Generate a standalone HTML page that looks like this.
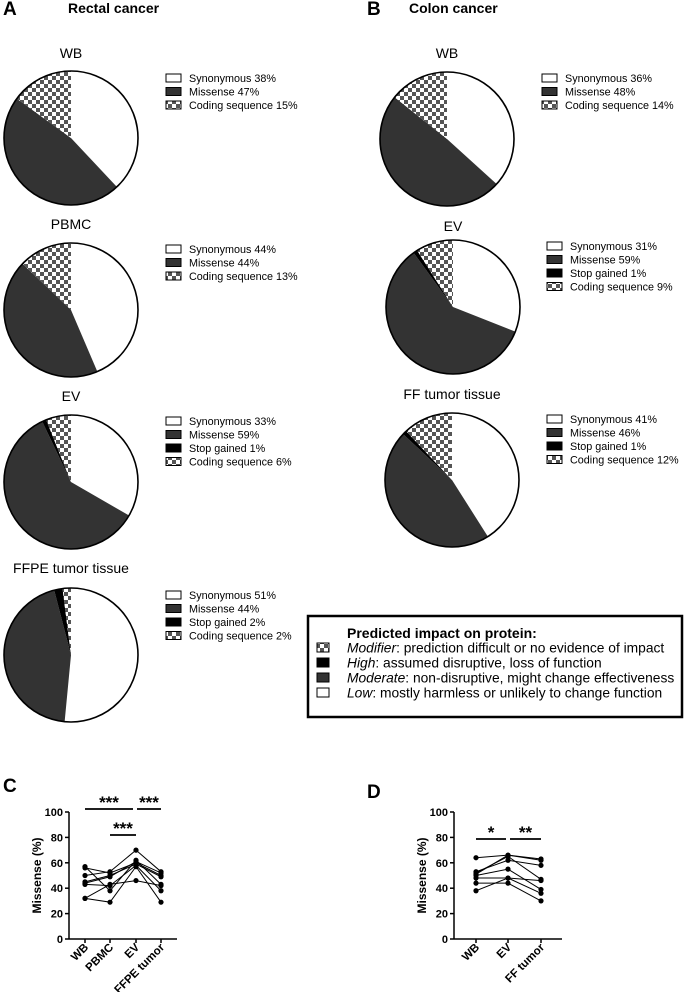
<!DOCTYPE html>
<html><head><meta charset="utf-8"><style>
html,body{margin:0;padding:0;background:#fff}
svg{display:block;font-family:"Liberation Sans",Arial,sans-serif}
</style></head><body>
<svg id="fig" width="685" height="992" viewBox="0 0 685 992">
<defs>
<pattern id="chk" width="8" height="8" patternUnits="userSpaceOnUse">
<rect width="8" height="8" fill="#fff"/><rect width="4" height="4" fill="#555"/><rect x="4" y="4" width="4" height="4" fill="#555"/>
</pattern>
</defs>
<text x="3" y="15" font-size="19" font-weight="bold">A</text>
<text x="68" y="13" font-size="14" font-weight="bold">Rectal cancer</text>
<text x="367" y="15" font-size="19" font-weight="bold">B</text>
<text x="409" y="13" font-size="14" font-weight="bold">Colon cancer</text>
<text x="3" y="792" font-size="19" font-weight="bold">C</text>
<text x="367" y="798" font-size="19" font-weight="bold">D</text>

<g>
<rect x="308" y="616" width="374" height="101" fill="#fff" stroke="#000" stroke-width="2.5"/>
<text x="347" y="638" font-size="14" font-weight="bold">Predicted impact on protein:</text>
<rect x="317" y="643" width="12" height="9" fill="url(#chk)" stroke="#000"/>
<text x="347" y="652.5" font-size="13.8"><tspan font-style="italic">Modifier</tspan>: prediction difficult or no evidence of impact</text>
<rect x="317" y="658" width="12" height="9" fill="#000" stroke="#000"/>
<text x="347" y="667.5" font-size="13.8"><tspan font-style="italic">High</tspan>: assumed disruptive, loss of function</text>
<rect x="317" y="673" width="12" height="9" fill="#333" stroke="#000"/>
<text x="347" y="682.5" font-size="13.8"><tspan font-style="italic">Moderate</tspan>: non-disruptive, might change effectiveness</text>
<rect x="317" y="688" width="12" height="9" fill="#fff" stroke="#000"/>
<text x="347" y="697.5" font-size="13.8"><tspan font-style="italic">Low</tspan>: mostly harmless or unlikely to change function</text>
</g>
<g id="pies"></g>
<g id="chartC"></g>
<g id="chartD"></g>
</svg>
<script>
const NS="http://www.w3.org/2000/svg";
// Pie data (order: synonymous, missense, stop gained, coding sequence)
const pieNames=["rectal-wb","rectal-pbmc","rectal-ev","rectal-ffpe","colon-wb","colon-ev","colon-ff"];
const pieTitles=["WB","PBMC","EV","FFPE tumor tissue","WB","EV","FF tumor tissue"];
const synonymous=[38,44,33,51,36,31,41];
const missense=[47,44,59,44,48,59,46];
const stopGained=[0,0,1,2,0,1,1];
const codingSeq=[15,13,6,2,14,9,12];
const hasStop=[false,false,true,true,false,true,true];
const pieLayout=[
 {cx:71,cy:138,r:67,ty:53,lx:166,ly:78},
 {cx:71,cy:310,r:67,ty:224,lx:166,ly:249},
 {cx:71,cy:482,r:67,ty:396,lx:166,ly:421},
 {cx:71,cy:655,r:67,ty:568,lx:166,ly:595},
 {cx:447,cy:139,r:67,ty:53,lx:542,ly:78},
 {cx:453,cy:307,r:67,ty:226,lx:547,ly:246},
 {cx:452,cy:480,r:67,ty:394,lx:547,ly:419}
];
function mk(tag,attrs,parent){const e=document.createElementNS(NS,tag);for(const k in attrs)e.setAttribute(k,attrs[k]);parent.appendChild(e);return e;}
const pies=document.getElementById('pies');
const fills=["#fff","#333","#000","url(#chk)"];
const labels=["Synonymous","Missense","Stop gained","Coding sequence"];
pieNames.forEach((nm,i)=>{
 const L=pieLayout[i];
 const g=mk('g',{},pies);
 
 
 const t=mk('text',{x:L.cx,y:L.ty+5,'font-size':14,'text-anchor':'middle'},g);t.textContent=pieTitles[i];
 
 
 const vals=[synonymous[i],missense[i],stopGained[i],codingSeq[i]];
 const tot=vals.reduce((a,b)=>a+b,0);
 let a0=0;
 vals.forEach((v,k)=>{
  if(v<=0)return;
  const a1=a0+v/tot*2*Math.PI;
  const x0=L.cx+L.r*Math.sin(a0),y0=L.cy-L.r*Math.cos(a0);
  const x1=L.cx+L.r*Math.sin(a1),y1=L.cy-L.r*Math.cos(a1);
  const p=mk('path',{d:`M${L.cx},${L.cy}L${x0},${y0}A${L.r},${L.r} 0 ${(a1-a0)>Math.PI?1:0} 1 ${x1},${y1}Z`,fill:fills[k],stroke:'none'},g);
  
  
  a0=a1;
 });
 mk('circle',{cx:L.cx,cy:L.cy,r:L.r,fill:'none',stroke:'#000','stroke-width':1.6},g);
 let row=0;
 [0,1,2,3].forEach(k=>{
  if(k===2&&!hasStop[i])return;
  const y=L.ly+row*13.5;
  const sw=mk('rect',{x:L.lx,y:y-4,width:15,height:8,fill:fills[k],stroke:'#000','stroke-width':1},g);
  
  
  const tx=mk('text',{x:L.lx+23,y:y+4,'font-size':10.8},g);tx.textContent=labels[k]+' '+vals[k]+'%';
  
  
  row++;
 });
});

// Chart C data
const catsC=["WB","PBMC","EV","FFPE tumor"];
const cWB=[57,56,50,45,44,43,32,32];
const cPBMC=[38,52,53,50,49,42,29,43];
const cEV=[62,60,70,59,61,58,57,46];
const cFFPE=[43,50,53,49,52,38,29,42];
// Chart D data
const catsD=["WB","EV","FF tumor"];
const dWB=[64,53,52,50,48,44,38,51];
const dEV=[66,62,65,55,48,44,48,66];
const dFF=[62,58,47,39,36,30,46,63];
const yTicks=[0,20,40,60,80,100];

function chart(gid,name,axisX,axisEnd,catX,cats,series,sig){
 const g=document.getElementById(gid);
 
 
 const y0=939,y100=812;
 const ys=v=>y0+(y100-y0)*v/100;
 mk('line',{x1:axisX,y1:y100,x2:axisX,y2:y0,stroke:'#000','stroke-width':1.5},g);
 mk('line',{x1:axisX,y1:y0,x2:axisEnd,y2:y0,stroke:'#000','stroke-width':1.5},g);
 yTicks.forEach(v=>{
  mk('line',{x1:axisX-4,y1:ys(v),x2:axisX,y2:ys(v),stroke:'#000','stroke-width':1.5},g);
  const t=mk('text',{x:axisX-6,y:ys(v)+4,'font-size':11,'font-weight':'bold','text-anchor':'end'},g);t.textContent=v;
  
  
 });
 const yt=mk('text',{transform:`translate(${axisX-28},${ys(50)}) rotate(-90)`,'font-size':12,'font-weight':'bold','text-anchor':'middle'},g);
 yt.textContent="Missense (%)";
 
 
 cats.forEach((c,k)=>{
  mk('line',{x1:catX[k],y1:y0,x2:catX[k],y2:y0+4,stroke:'#000','stroke-width':1.5},g);
  const t=mk('text',{transform:`translate(${catX[k]+4},${y0+9}) rotate(-45)`,'font-size':11.5,'font-weight':'bold','text-anchor':'end'},g);t.textContent=c;
  
  
 });
 const n=series[0].length;
 for(let s=0;s<n;s++){
  const pts=series.map((arr,k)=>[catX[k],ys(arr[s])]);
  const pl=mk('polyline',{points:pts.map(p=>p.join(',')).join(' '),fill:'none',stroke:'#000','stroke-width':1},g);
  
  
  pts.forEach(p=>{
   const c=mk('circle',{cx:p[0],cy:p[1],r:2.6,fill:'#000'},g);
   
   
  });
 }
 sig.forEach(b=>{
  mk('line',{x1:b.x1,y1:b.y,x2:b.x2,y2:b.y,stroke:'#000','stroke-width':1.8},g);
  const t=mk('text',{x:(b.x1+b.x2)/2,y:b.y-1,'font-size':17,'font-weight':'bold','text-anchor':'middle'},g);t.textContent=b.s;
  
  
 });
}
chart('chartC','missense-chart-rectal',69,177,[85,110,136,161],catsC,[cWB,cPBMC,cEV,cFFPE],
 [{x1:85,x2:133,y:809,s:"***"},{x1:137,x2:161,y:809,s:"***"},{x1:110,x2:136,y:835,s:"***"}]);
chart('chartD','missense-chart-colon',454,562,[476,508,541],catsD,[dWB,dEV,dFF],
 [{x1:476,x2:506,y:839,s:"*"},{x1:510,x2:541,y:839,s:"**"}]);
</script>
</body></html>
